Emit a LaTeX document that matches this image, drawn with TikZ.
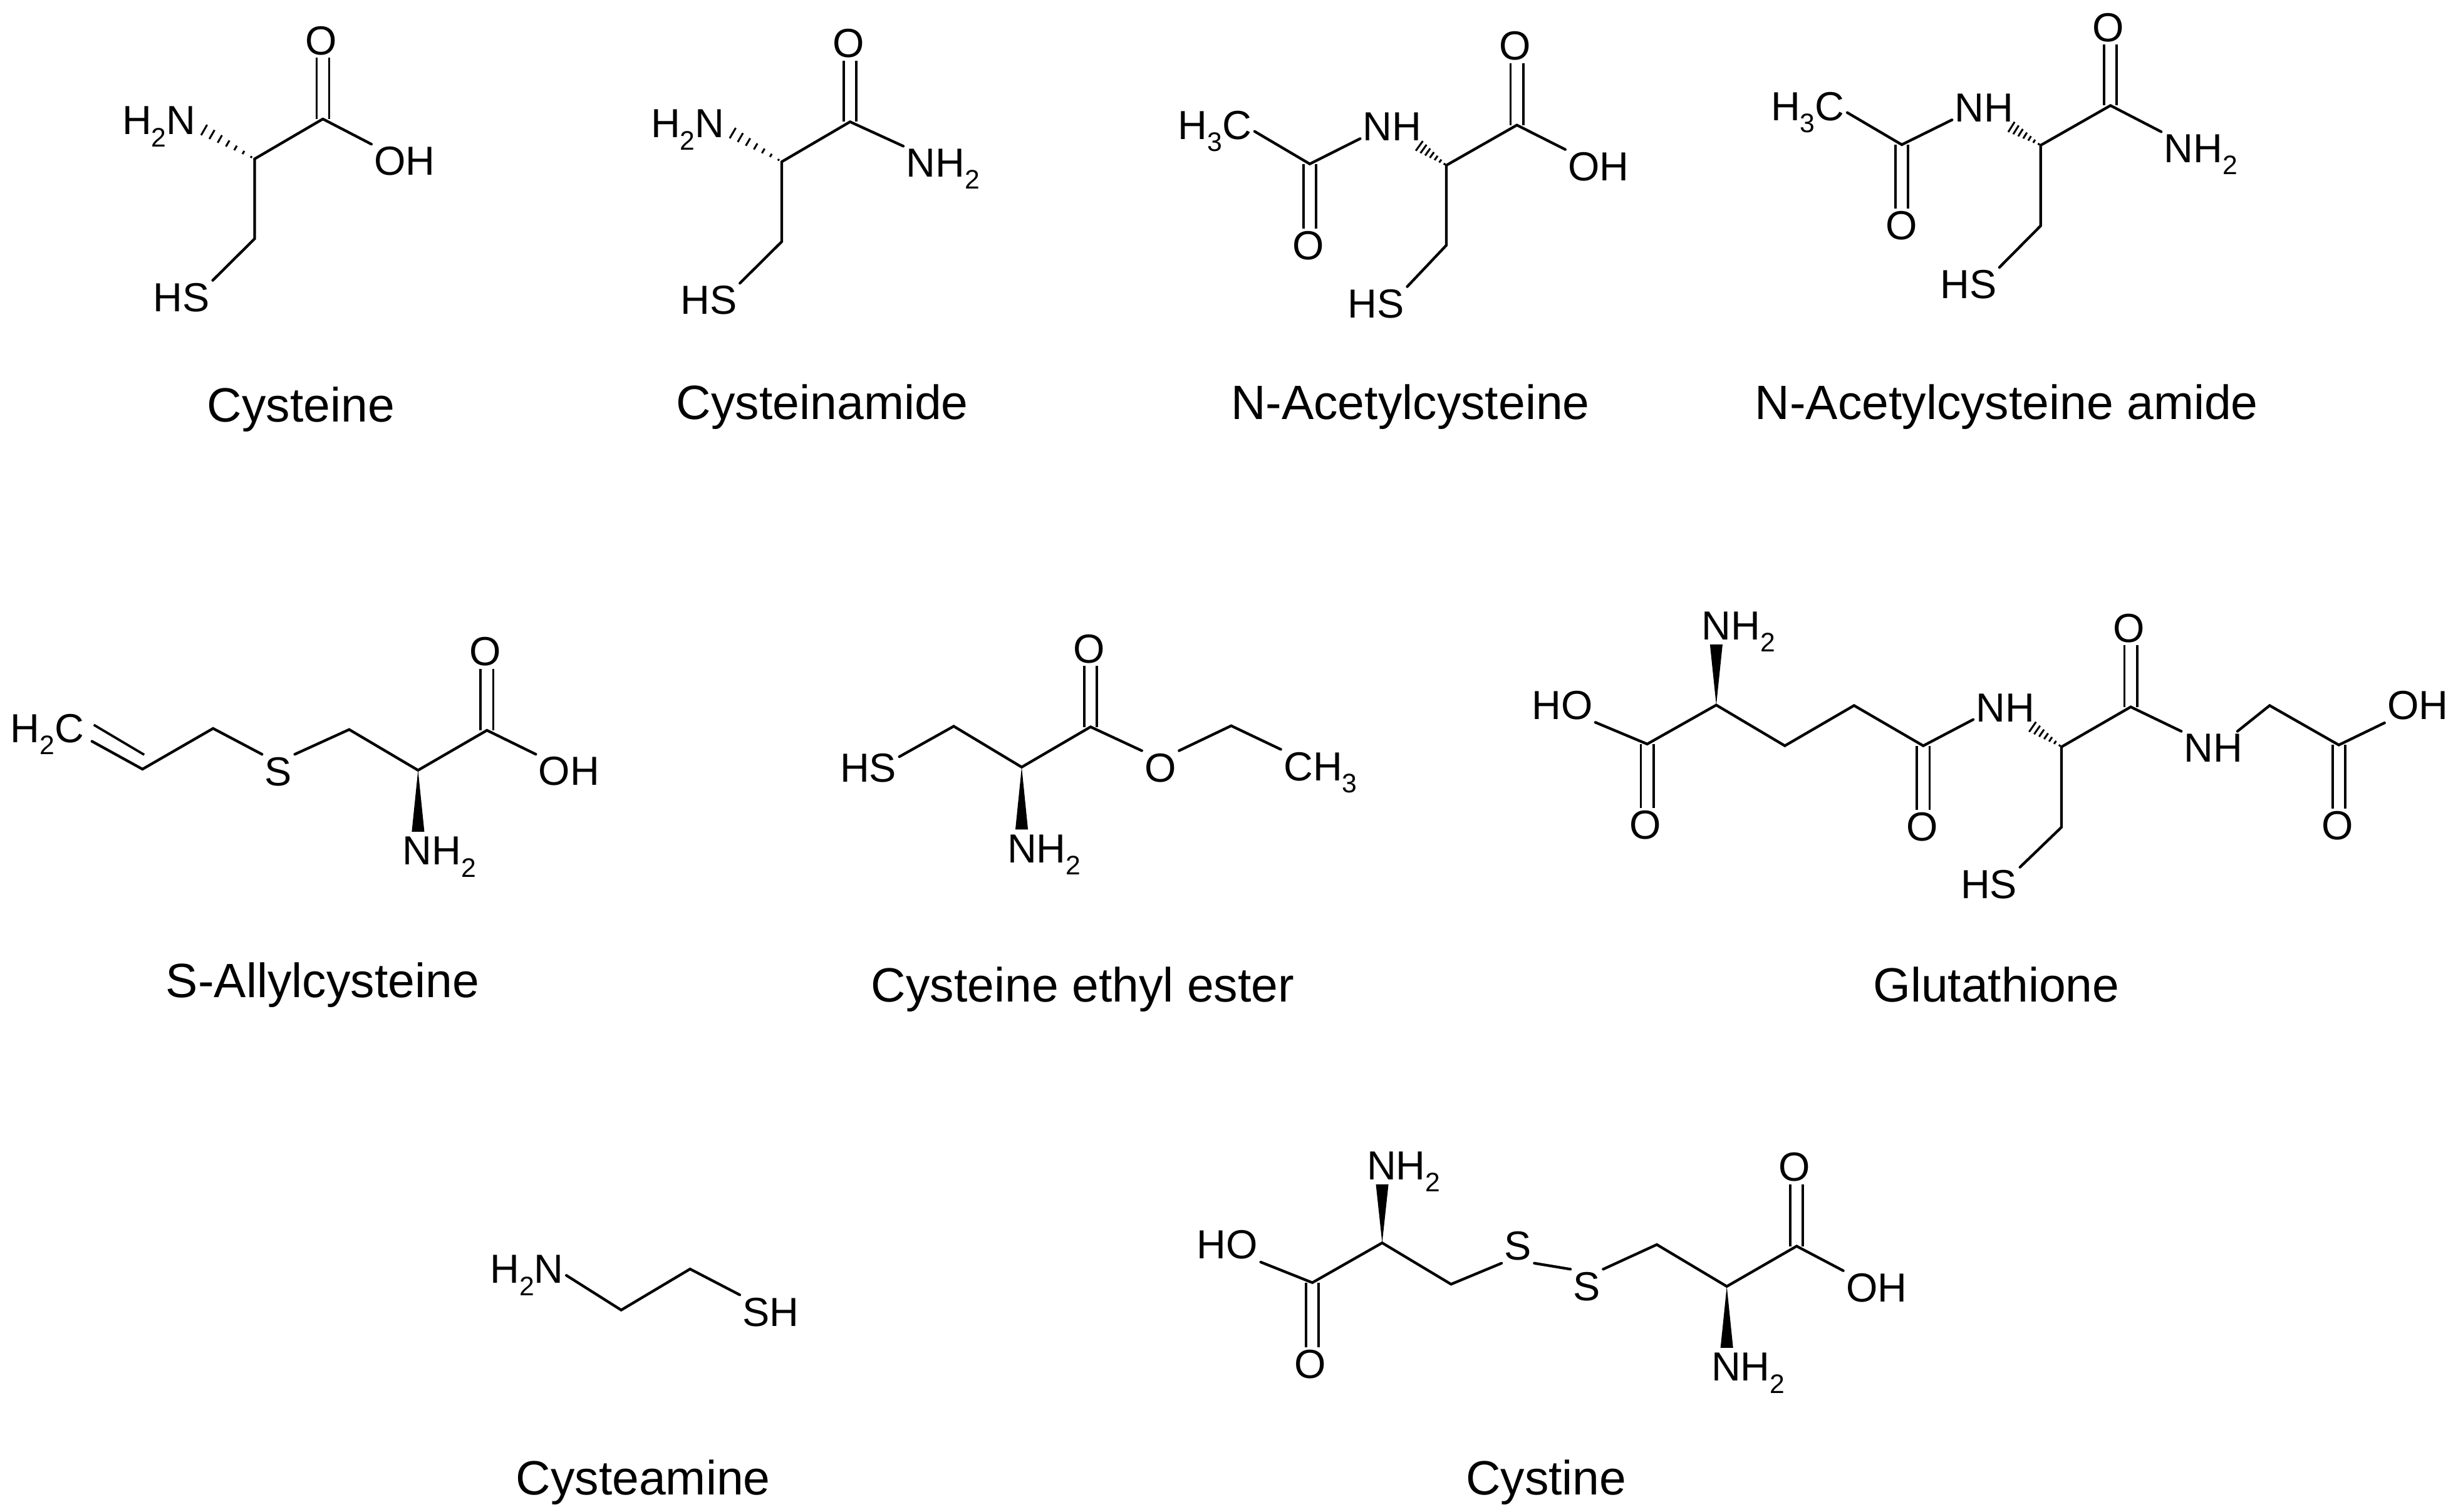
\documentclass[tikz,border=0pt]{standalone}
\usepackage{fontspec}
\setmainfont{Liberation Sans}
\usetikzlibrary{calc}
\newcommand\subs[1]{\raisebox{-0.3em}{\fontsize{17}{17}\selectfont #1}}
\tikzset{
  atomw/.style={font=\fontsize{25.8}{25.8}\selectfont,inner sep=1.6pt,anchor=base west,text=black},
  atomc/.style={font=\fontsize{25.8}{25.8}\selectfont,inner sep=1.6pt,anchor=center,text=black},
  lbl/.style={font=\fontsize{30.6}{30.6}\selectfont,inner sep=0pt,anchor=base,text=black,yshift=-1.5pt},
  bond/.style={draw=black,line width=1.7pt,line cap=round,line join=miter},
  dbond/.style={draw=black,line width=1.5pt,line cap=butt},
  hashline/.style={draw=black,line width=1.2pt},
  crop/.style n args={2}{x=.9949pt,y=-.9949pt,shift={(#1pt,-#2pt)}},
}
% vertical double bond from vertex #2 to level of anchor #3
\newcommand\vdb[2]{%
  \draw[dbond] ($(#1)+(-4pt,0pt)$) -- ($(#1 |- #2)+(-4pt,0pt)$);
  \draw[dbond] ($(#1)+(4pt,0pt)$) -- ($(#1 |- #2)+(4pt,0pt)$);}
\newcommand\wedgedown[2]{%
  \fill[black] (#1) -- ($(#1 |- #2.north)+(-4pt,1.5pt)$) -- ($(#1 |- #2.north)+(4pt,1.5pt)$) -- cycle;}
\newcommand\wedgeup[2]{%
  \fill[black] (#1) -- ($(#1 |- #2.base)+(-4pt,-3pt)$) -- ($(#1 |- #2.base)+(4pt,-3pt)$) -- cycle;}
\newcommand\hashbond[2]{%
  \foreach \t in {0.06,0.2,0.34,0.48,0.62,0.76,0.9}{%
    \pgfmathsetmacro\hw{0.4+3.8*\t}%
    \draw[hashline] ($($(#1)!\t!(#2)$)!\hw pt!90:(#2)$) -- ($($(#1)!\t!(#2)$)!\hw pt!-90:(#2)$);}}
\begin{document}
\begin{tikzpicture}[x=1pt,y=-1pt]
\useasboundingbox[fill=white] (0,0) rectangle (1565,960.8);

\begin{scope}[crop={0.2}{0}]
% ---------- Cysteine
\coordinate (ac) at (206,76); \coordinate (as) at (162.4,101.5); \coordinate (am) at (162.4,152.5);
\node[atomc] (ao) at (205,26) {O};
\node[atomw] (aoh) at (237,112) {OH};
\node[atomw] (ahs) at (96,199) {HS};
\node[atomw] (an) at (76,86) {H\subs{2}N};
\draw[bond] (as) -- (ac); \draw[bond] (ac) -- (aoh.north west);
\draw[bond] (as) -- (am) -- (ahs.north east);
\vdb{ac}{ao.south}
\hashbond{as}{an.east}
\node[lbl] (alab) at (192,268) {Cysteine};

% ---------- Cysteinamide
\coordinate (bc) at (542.7,77.8); \coordinate (bs) at (499.1,103.3); \coordinate (bm) at (499.1,154.3);
\node[atomc] (bo) at (541.7,27.8) {O};
\node[atomw] (bnh) at (576.7,113) {NH\subs{2}};
\node[atomw] (bhs) at (432.7,200.8) {HS};
\node[atomw] (bn) at (413.7,88) {H\subs{2}N};
\draw[bond] (bs) -- (bc); \draw[bond] (bc) -- (bnh.north west);
\draw[bond] (bs) -- (bm) -- (bhs.north east);
\vdb{bc}{bo.south}
\hashbond{bs}{bn.east}
\node[lbl] (blab) at (525,266.4) {Cysteinamide};
\end{scope}

\begin{scope}[crop={3.65}{0}]
% ---------- N-Acetylcysteine
\coordinate (cc1) at (832.8,104.7); \coordinate (cs) at (920,105.6); \coordinate (cc) at (965.1,79.9); \coordinate (cm) at (920,156.7);
\node[atomw] (cme) at (747,89) {H\subs{3}C};
\node[atomw] (cnh) at (865,90) {NH};
\node[atomc] (co1) at (831.8,157) {O};
\node[atomc] (co) at (964.1,29.4) {O};
\node[atomw] (coh) at (996,115.4) {OH};
\node[atomw] (chs) at (855.4,203) {HS};
\draw[bond] (cme.east) -- (cc1) -- (cnh.-160);
\vdb{cc1}{co1.north}
\draw[bond] (cs) -- (cc) -- (coh.north west);
\vdb{cc}{co.south}
\draw[bond] (cs) -- (cm) -- (chs.north east);
\hashbond{cs}{cnh.-35}
\node[lbl] (clab) at (897,266.4) {N-Acetylcysteine};

% ---------- N-Acetylcysteine amide
\coordinate (dc1) at (1210.9,92.4); \coordinate (ds) at (1299.6,92.8); \coordinate (dc) at (1344.2,67.4); \coordinate (dm) at (1299.6,144.2);
\node[atomw] (dme) at (1125.5,77) {H\subs{3}C};
\node[atomw] (dnh) at (1243,78) {NH};
\node[atomc] (do1) at (1210.9,144.2) {O};
\node[atomc] (do) at (1342.8,17.5) {O};
\node[atomw] (dnh2) at (1376.6,103.8) {NH\subs{2}};
\node[atomw] (dhs) at (1233.6,190.7) {HS};
\draw[bond] (dme.east) -- (dc1) -- (dnh.-160);
\vdb{dc1}{do1.north}
\draw[bond] (ds) -- (dc) -- (dnh2.north west);
\vdb{dc}{do.south}
\draw[bond] (ds) -- (dm) -- (dhs.north east);
\hashbond{ds}{dnh.-35}
\node[lbl] (dlab) at (1277.8,266.4) {N-Acetylcysteine amide};
\end{scope}

\begin{scope}[crop={0}{1.95}]
% ---------- S-Allylcysteine
\coordinate (e1) at (91,489.3); \coordinate (e2) at (136.1,463.3); \coordinate (e3) at (223,464);
\coordinate (es) at (267,490); \coordinate (ec) at (311,464.5);
\coordinate (eda) at (58.7,471.5); \coordinate (edb) at (59.9,461); \coordinate (edc) at (92.1,480.1);
\node[atomw] (eme) at (4.8,472.3) {H\subs{2}C};
\node[atomc] (esu) at (177.8,490.8) {S};
\node[atomc] (eo) at (309.8,414.2) {O};
\node[atomw] (eoh) at (342.2,499.7) {OH};
\node[atomw] (enh) at (255.4,550.4) {NH\subs{2}};
\draw[bond] (eda) -- (e1) -- (e2) -- (esu.north west);
\draw[dbond] (edb) -- (edc);
\draw[bond] (esu.north east) -- (e3) -- (es) -- (ec) -- (eoh.north west);
\vdb{ec}{eo.south}
\wedgedown{es}{enh}
\node[lbl] (elab) at (206,633.7) {S-Allylcysteine};

% ---------- Cysteine ethyl ester
\coordinate (f1) at (609.1,461.9); \coordinate (fs) at (652.5,488); \coordinate (fc) at (696.5,462.3); \coordinate (f2) at (786.3,461.6);
\node[atomw] (fhs) at (534.7,497.5) {HS};
\node[atomc] (fo1) at (695.4,412.5) {O};
\node[atomc] (fo) at (741.1,488.5) {O};
\node[atomw] (fme) at (818,496.6) {CH\subs{3}};
\node[atomw] (fnh) at (641.5,549) {NH\subs{2}};
\draw[bond] (fhs.20) -- (f1) -- (fs) -- (fc) -- (fo.north west);
\vdb{fc}{fo1.south}
\draw[bond] (fo.north east) -- (f2) -- (fme.north west);
\wedgedown{fs}{fnh}
\node[lbl] (flab) at (691.5,636.3) {Cysteine ethyl ester};
\end{scope}

\begin{scope}[crop={4.87}{1.91}]
% ---------- Glutathione
\coordinate (g1) at (1047.1,473.3); \coordinate (gs1) at (1091.2,448.4); \coordinate (g2) at (1135,474.4);
\coordinate (g3) at (1179.2,448.7); \coordinate (g4) at (1223.4,474.4); \coordinate (gs2) at (1311.7,475.1);
\coordinate (g5) at (1355.9,449.6); \coordinate (g6) at (1444.6,448.7); \coordinate (g7) at (1488.8,473.9);
\coordinate (gm) at (1311.7,526.4);
\node[atomw] (gho) at (971.5,457.4) {HO};
\node[atomw] (gnh2) at (1080.2,406.7) {NH\subs{2}};
\node[atomc] (go1) at (1045.9,525) {O};
\node[atomc] (go2) at (1222.6,526.4) {O};
\node[atomw] (gn1) at (1255.3,459.1) {NH};
\node[atomc] (go3) at (1354.7,399.3) {O};
\node[atomw] (gn2) at (1388.2,484.8) {NH};
\node[atomc] (go4) at (1488,525.6) {O};
\node[atomw] (goh) at (1518,457.7) {OH};
\node[atomw] (ghs) at (1245.5,571.9) {HS};
\draw[bond] (gho.south east) -- (g1) -- (gs1) -- (g2) -- (g3) -- (g4) -- (gn1.-160);
\vdb{g1}{go1.north}
\wedgeup{gs1}{gnh2}
\vdb{g4}{go2.north}
\hashbond{gs2}{gn1.-35}
\draw[bond] (gs2) -- (g5) -- (gn2.north west);
\vdb{g5}{go3.south}
\draw[bond] (gn2.35) -- (g6) -- (g7) -- (goh.south west);
\vdb{g7}{go4.north}
\draw[bond] (gs2) -- (gm) -- (ghs.north east);
\node[lbl] (glab) at (1270,636.4) {Glutathione};
\end{scope}

\begin{scope}[crop={1.42}{3.61}]
% ---------- Cysteamine
\coordinate (h1) at (395.3,833.1); \coordinate (h2) at (439.3,806.9);
\node[atomw] (hn) at (309.7,816) {H\subs{2}N};
\node[atomw] (hs) at (471,843.3) {SH};
\draw[bond] (hn.east) -- (h1) -- (h2) -- (hs.north west);
\node[lbl] (hlab) at (409.3,949.6) {Cysteamine};

% ---------- Cystine
\coordinate (i1) at (836.7,815.6); \coordinate (is1) at (881.3,790.2); \coordinate (i2) at (925.3,816.6);
\coordinate (i3) at (1056.7,791.3); \coordinate (is2) at (1101.4,818); \coordinate (i4) at (1146,792.3);
\node[atomw] (iho) at (761.2,800.4) {HO};
\node[atomc] (io1) at (835.4,867.9) {O};
\node[atomw] (inh1) at (869.7,749.8) {NH\subs{2}};
\node[atomc] (is3) at (968,792.2) {S};
\node[atomc] (is4) at (1012,818) {S};
\node[atomc] (io2) at (1144.7,741.7) {O};
\node[atomw] (ioh) at (1175.8,827.9) {OH};
\node[atomw] (inh2) at (1089.7,878.4) {NH\subs{2}};
\draw[bond] (iho.south east) -- (i1) -- (is1) -- (i2) -- (is3.south west);
\vdb{i1}{io1.north}
\wedgeup{is1}{inh1}
\draw[bond] (is3.south east) -- (is4.north west);
\draw[bond] (is4.north east) -- (i3) -- (is2) -- (i4) -- (ioh.north west);
\vdb{i4}{io2.south}
\wedgedown{is2}{inh2}
\node[lbl] (ilab) at (986,949.6) {Cystine};
\end{scope}
\end{tikzpicture}
\end{document}
